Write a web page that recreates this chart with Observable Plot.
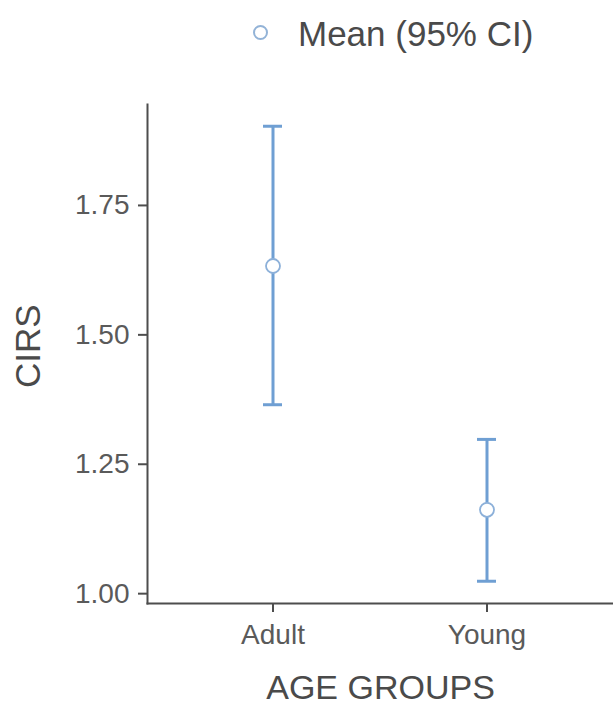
<!DOCTYPE html>
<html>
<head>
<meta charset="utf-8">
<script src="https://cdn.jsdelivr.net/npm/d3@7"></script>
<script src="https://cdn.jsdelivr.net/npm/@observablehq/plot@0.6"></script>
<style>
  html, body { margin: 0; padding: 0; background: #fff; }
  body { width: 613px; font-family: "Liberation Sans", Arial, Helvetica, sans-serif; }
  #legend { position: relative; height: 70px; }
  #legend .sym { position: absolute; left: 252.5px; top: 24.5px; width: 15px; height: 15px;
    border: 2px solid #93b3d7; border-radius: 50%; box-sizing: border-box; background: #fff; }
  #legend .lab { position: absolute; left: 298px; top: 16px; font-size: 35px; line-height: 35px; color: #4a4a4a; white-space: nowrap; }
  #chart svg { display: block; }
</style>
</head>
<body>
<div id="legend"><span class="sym"></span><span class="lab">Mean (95% CI)</span></div>
<div id="chart"></div>
<script>
const groups = ["Adult", "Young"];
const means = [1.633, 1.162];
const lower = [1.365, 1.024];
const upper = [1.903, 1.298];
const yTicks = [1.00, 1.25, 1.50, 1.75];
const xTitle = "AGE GROUPS";
const yTitle = "CIRS";

const data = groups.map((g, i) => ({group: g, mean: means[i], lo: lower[i], hi: upper[i]}));

const barColor = "#6f9fd3";
const dotColor = "#8cb0d9";
const axisColor = "#4d4d4d";
const textColor = "#5a5a5a";

const chart = Plot.plot({
  width: 613,
  height: 634,
  marginLeft: 147,
  marginRight: 0,
  marginTop: 34,
  marginBottom: 101,
  style: {fontFamily: '"Liberation Sans", Arial, Helvetica, sans-serif', background: "#fff"},
  x: {type: "band", domain: groups, paddingInner: 0.91, paddingOuter: 0.54},
  y: {domain: [0.981, 1.945]},
  marks: [
    Plot.frame({anchor: "left", stroke: axisColor, strokeWidth: 2}),
    Plot.frame({anchor: "bottom", stroke: axisColor, strokeWidth: 2}),
    Plot.axisY({ticks: yTicks, tickFormat: d3.format(".2f"), tickSize: 9, tickPadding: 9,
      fontSize: 28, fill: textColor, stroke: axisColor, strokeWidth: 2, label: null}),
    Plot.axisX({tickSize: 9, tickPadding: 12, fontSize: 28, fill: textColor, stroke: axisColor, strokeWidth: 2, label: null}),
    Plot.ruleX(data, {x: "group", y1: "lo", y2: "hi", stroke: barColor, strokeWidth: 3}),
    Plot.tickY(data, {x: "group", y: "hi", stroke: barColor, strokeWidth: 3}),
    Plot.tickY(data, {x: "group", y: "lo", stroke: barColor, strokeWidth: 3}),
    Plot.dot(data, {x: "group", y: "mean", r: 7, fill: "#fff", stroke: dotColor, strokeWidth: 1.8}),
    Plot.text([xTitle], {text: d => d, frameAnchor: "bottom", dy: 95, fontSize: 34, fill: "#4a4a4a"}),
    Plot.text([yTitle], {text: d => d, frameAnchor: "left", dx: -119, dy: 34, rotate: -90, fontSize: 35, fill: "#4a4a4a"})
  ]
});
document.getElementById("chart").appendChild(chart);
</script>
</body>
</html>
